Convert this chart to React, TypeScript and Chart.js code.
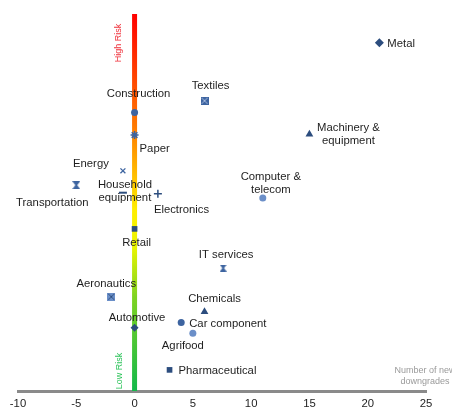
import React, { useEffect, useRef } from "react";
import { Chart, registerables } from "chart.js";

Chart.register(...registerables);

// ---- data ----
const sectors = [
  "Metal", "Textiles", "Construction", "Paper", "Machinery & equipment", "Energy",
  "Transportation", "Household equipment", "Electronics", "Computer & telecom", "Retail",
  "IT services", "Aeronautics", "Chemicals", "Car component", "Automotive", "Agrifood",
  "Pharmaceutical",
];
const netDowngrades = [21, 6, 0, 0, 15, -1, -5, -1, 2, 11, 0, 7.6, -2, 6, 4, 0, 5, 3];
const riskLevel = [92.4, 77.0, 73.9, 67.9, 68.1, 58.4, 54.6, 52.6, 52.3, 51.2, 43.0, 32.6, 25.0, 21.0, 18.2, 16.8, 15.3, 5.6];
const xTicks = [-10, -5, 0, 5, 10, 15, 20, 25];
const riskScale = [0, 100];
const riskTexts = ["High Risk", "Low Risk"];
const axisTitle = ["Number of new", "downgrades"];

// ---- styles (per sector) ----
type LabelStyle = { dx: number; dy: number; align: CanvasTextAlign; lines?: string[] };
const labelStyle: Record<string, LabelStyle> = {
  "Metal": { dx: 8, dy: 1, align: "left" },
  "Textiles": { dx: 6, dy: -15, align: "center" },
  "Construction": { dx: 4, dy: -19, align: "center" },
  "Paper": { dx: 5, dy: 14, align: "left" },
  "Machinery & equipment": { dx: 39, dy: 0, align: "center", lines: ["Machinery &", "equipment"] },
  "Energy": { dx: -32, dy: -7, align: "center" },
  "Transportation": { dx: -24, dy: 18, align: "center" },
  "Household equipment": { dx: 2, dy: -1, align: "center", lines: ["Household", "equipment"] },
  "Electronics": { dx: -4, dy: 16, align: "left" },
  "Computer & telecom": { dx: 8, dy: -14.5, align: "center", lines: ["Computer &", "telecom"] },
  "Retail": { dx: 2, dy: 14, align: "center" },
  "IT services": { dx: 3, dy: -13, align: "center" },
  "Aeronautics": { dx: -5, dy: -13, align: "center" },
  "Chemicals": { dx: 10, dy: -13, align: "center" },
  "Car component": { dx: 8, dy: 1, align: "left" },
  "Automotive": { dx: 2.5, dy: -10, align: "center" },
  "Agrifood": { dx: -10, dy: 13, align: "center" },
  "Pharmaceutical": { dx: 9, dy: 1, align: "left" },
};

const DARK = "#2c4d7e";
const MID = "#3d64a0";
const LIGHT = "#6b8fc8";

function boxX(size: number, fill: string, cross: string): HTMLCanvasElement {
  const c = document.createElement("canvas");
  c.width = size;
  c.height = size;
  const g = c.getContext("2d")!;
  g.fillStyle = fill;
  g.fillRect(0, 0, size, size);
  g.strokeStyle = cross;
  g.lineWidth = 1;
  g.beginPath();
  g.moveTo(1, 1);
  g.lineTo(size - 1, size - 1);
  g.moveTo(size - 1, 1);
  g.lineTo(1, size - 1);
  g.stroke();
  return c;
}

function hourglass(size: number, fill: string): HTMLCanvasElement {
  const c = document.createElement("canvas");
  c.width = size;
  c.height = size;
  const g = c.getContext("2d")!;
  g.fillStyle = fill;
  g.beginPath();
  g.moveTo(0, 0);
  g.lineTo(size, 0);
  g.lineTo(size * 0.62, size / 2);
  g.lineTo(size, size);
  g.lineTo(0, size);
  g.lineTo(size * 0.38, size / 2);
  g.closePath();
  g.fill();
  return c;
}

export default function App() {
  const ref = useRef<HTMLCanvasElement | null>(null);

  useEffect(() => {
    if (!ref.current) return;
    const FONT = "'Liberation Sans', Arial, sans-serif";

    const styleFor: Record<string, { style: any; color: string; radius: number; bw: number }> = {
      "Metal": { style: "rectRot", color: DARK, radius: 4.5, bw: 0 },
      "Textiles": { style: boxX(8, MID, "#a9bde0"), color: MID, radius: 4, bw: 0 },
      "Construction": { style: "circle", color: MID, radius: 3.5, bw: 0 },
      "Paper": { style: "star", color: MID, radius: 4, bw: 1.5 },
      "Machinery & equipment": { style: "triangle", color: DARK, radius: 4.5, bw: 0 },
      "Energy": { style: "crossRot", color: MID, radius: 3.5, bw: 1.3 },
      "Transportation": { style: hourglass(8, MID), color: MID, radius: 4, bw: 0 },
      "Household equipment": { style: "line", color: DARK, radius: 4, bw: 2 },
      "Electronics": { style: "cross", color: DARK, radius: 4, bw: 1.5 },
      "Computer & telecom": { style: "circle", color: LIGHT, radius: 3.5, bw: 0 },
      "Retail": { style: "rect", color: DARK, radius: 4, bw: 0 },
      "IT services": { style: hourglass(7, MID), color: MID, radius: 3.5, bw: 0 },
      "Aeronautics": { style: boxX(8, LIGHT, "#2c4d7e"), color: LIGHT, radius: 4, bw: 0 },
      "Chemicals": { style: "triangle", color: DARK, radius: 4.5, bw: 0 },
      "Car component": { style: "circle", color: MID, radius: 3.5, bw: 0 },
      "Automotive": { style: "rectRot", color: DARK, radius: 4, bw: 0 },
      "Agrifood": { style: "circle", color: LIGHT, radius: 3.5, bw: 0 },
      "Pharmaceutical": { style: "rect", color: DARK, radius: 4, bw: 0 },
    };

    const points = sectors.map((s, i) => ({ x: netDowngrades[i], y: riskLevel[i] }));

    const labelPlugin = {
      id: "sectorLabels",
      afterDatasetsDraw(chart: any) {
        const c = chart.ctx;
        const meta = chart.getDatasetMeta(1);
        c.save();
        c.font = `11.3px ${FONT}`;
        c.fillStyle = "#1e1e1e";
        c.textBaseline = "middle";
        meta.data.forEach((el: any, i: number) => {
          const name = sectors[i];
          const st = labelStyle[name];
          const lines = st.lines || [name];
          const lh = 13;
          c.textAlign = st.align;
          lines.forEach((ln, j) => {
            const off = (j - (lines.length - 1) / 2) * lh;
            c.fillText(ln, el.x + st.dx, el.y + st.dy + off);
          });
        });
        // risk texts
        const xs = chart.scales.x;
        const ys = chart.scales.y;
        const x0 = xs.getPixelForValue(0);
        c.font = `9px ${FONT}`;
        c.textAlign = "center";
        c.save();
        c.translate(x0 - 16, ys.getPixelForValue(riskScale[1]) + 29);
        c.rotate(-Math.PI / 2);
        c.fillStyle = "#f0303a";
        c.fillText(riskTexts[0], 0, 0);
        c.restore();
        c.save();
        c.translate(x0 - 15, ys.getPixelForValue(riskScale[0]) - 20);
        c.rotate(-Math.PI / 2);
        c.fillStyle = "#2cc35a";
        c.fillText(riskTexts[1], 0, 0);
        c.restore();
        // axis title
        c.fillStyle = "#9a9a9a";
        c.font = `9px ${FONT}`;
        const xr = xs.getPixelForValue(xTicks[xTicks.length - 1]) - 1;
        const yb = ys.getPixelForValue(riskScale[0]);
        c.fillText(axisTitle[0], xr, yb - 20);
        c.fillText(axisTitle[1], xr, yb - 9);
        c.restore();
      },
    };

    const chart = new Chart(ref.current, {
      type: "scatter",
      data: {
        datasets: [
          {
            type: "line",
            data: [
              { x: 0, y: riskScale[0] },
              { x: 0, y: riskScale[1] },
            ],
            borderWidth: 5,
            pointRadius: 0,
            borderCapStyle: "butt",
            borderColor: (ctx: any) => {
              const { chart } = ctx;
              const area = chart.chartArea;
              if (!area) return "#ff0000";
              const g = chart.ctx.createLinearGradient(0, area.top, 0, area.bottom);
              g.addColorStop(0, "#ff0000");
              g.addColorStop(0.3, "#ff7a00");
              g.addColorStop(0.52, "#ffee00");
              g.addColorStop(0.62, "#e8f500");
              g.addColorStop(0.75, "#7ed321");
              g.addColorStop(1, "#12b84a");
              return g;
            },
            order: 2,
          } as any,
          {
            data: points,
            pointStyle: sectors.map((s) => styleFor[s].style),
            pointRadius: sectors.map((s) => styleFor[s].radius),
            backgroundColor: sectors.map((s) => styleFor[s].color),
            borderColor: sectors.map((s) => styleFor[s].color),
            borderWidth: sectors.map((s) => styleFor[s].bw),
            order: 1,
          } as any,
        ],
      },
      options: {
        responsive: false,
        animation: false,
        layout: { padding: { left: 18, right: 26, top: 14, bottom: 0 } },
        plugins: { legend: { display: false }, tooltip: { enabled: false } },
        scales: {
          x: {
            type: "linear",
            min: xTicks[0],
            max: xTicks[xTicks.length - 1],
            afterBuildTicks: (axis: any) => {
              axis.ticks = xTicks.map((v) => ({ value: v }));
            },
            afterFit: (axis: any) => {
              axis.height = 19;
            },
            grid: { display: false, drawTicks: false },
            border: { display: true, color: "#8a8a8a", width: 3 },
            ticks: { color: "#1e1e1e", font: { size: 11.3, family: FONT }, padding: 6 },
          },
          y: {
            type: "linear",
            display: false,
            min: riskScale[0],
            max: riskScale[1],
          },
        },
      },
      plugins: [labelPlugin],
    });
    return () => chart.destroy();
  }, []);

  return (
    <div style={{ position: "fixed", left: 0, top: 0, width: 452, height: 410, background: "#fff" }}>
      <canvas ref={ref} width={452} height={410} />
    </div>
  );
}
